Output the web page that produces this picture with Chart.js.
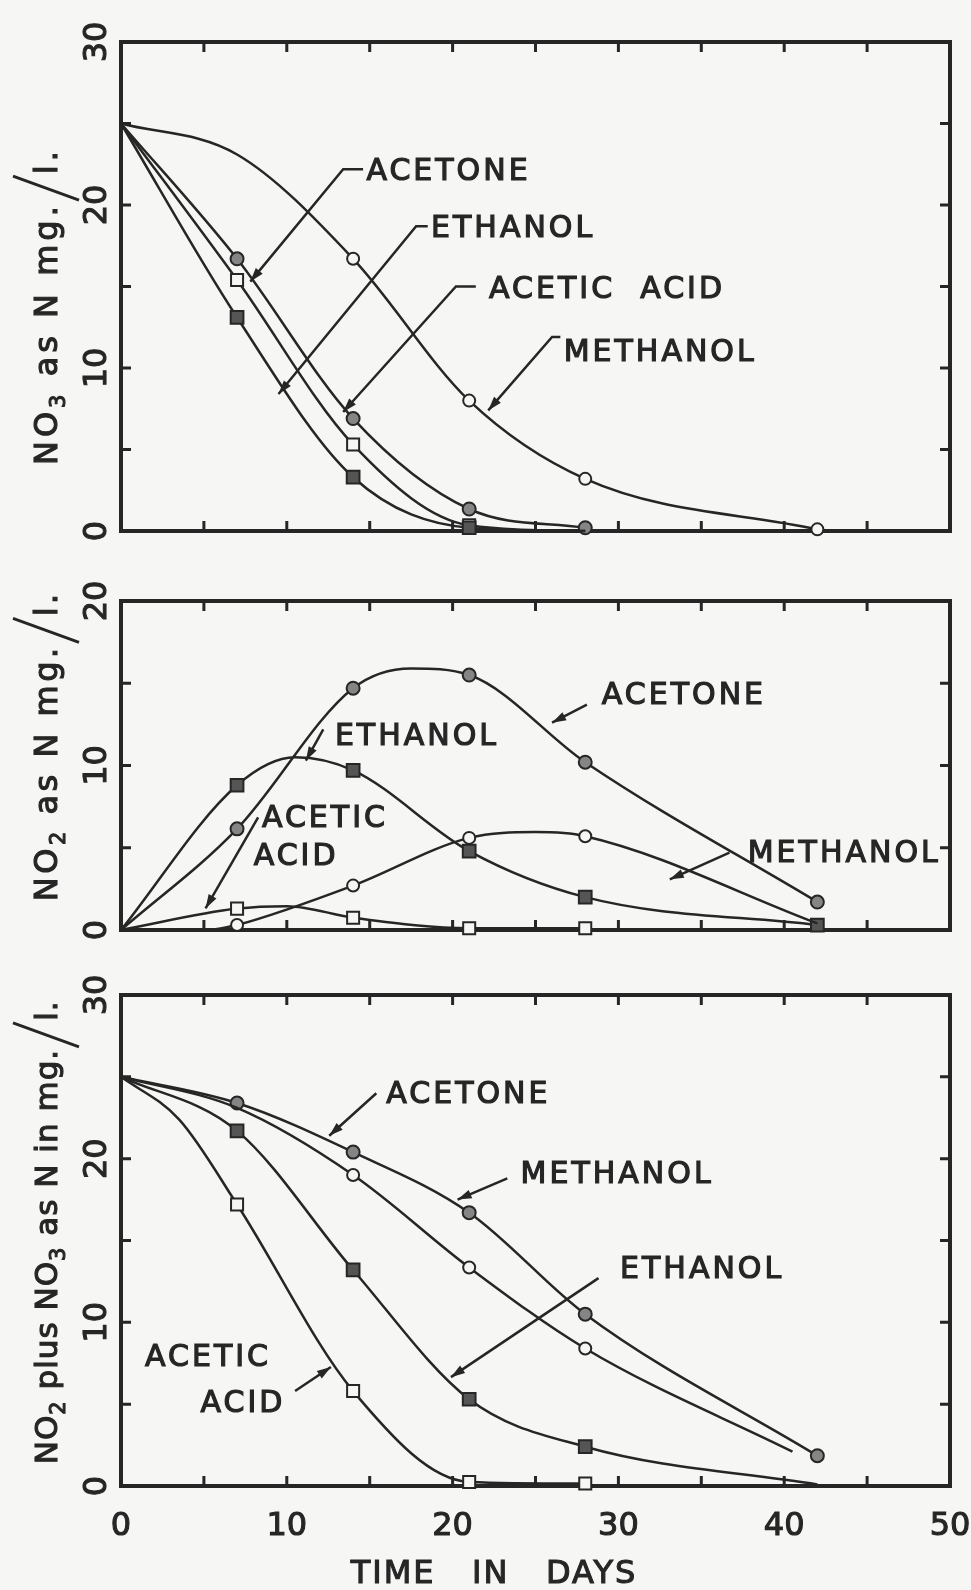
<!DOCTYPE html>
<html>
<head>
<meta charset="utf-8">
<script src="https://cdn.jsdelivr.net/npm/chart.js@4.4.1/dist/chart.umd.min.js"></script>
<style>
  html, body { margin: 0; padding: 0; background: #f6f6f4; }
  #wrap { position: relative; width: 971px; height: 1590px; }
  #wrap canvas { position: absolute; left: 0; top: 0; }
</style>
</head>
<body>
<div id="wrap">
  <canvas id="chart-no3" width="971" height="1590"></canvas>
  <canvas id="chart-no2" width="971" height="1590"></canvas>
  <canvas id="chart-sum" width="971" height="1590"></canvas>
</div>
<script>
// sampling days (symbols are drawn at these)
const sampleDays = [7, 14, 21, 28, 42];
const xTickLabels = [0, 10, 20, 30, 40, 50];
const xMinorTicks = [5, 10, 15, 20, 25, 30, 35, 40, 45];

// top panel - NO3 as N, mg/l
const no3Acetone    = [16.7, 6.9, 1.35, 0.2, null];
const no3Methanol   = [null, 16.7, 8.0, 3.2, 0.1];
const no3Ethanol    = [13.1, 3.3, 0.2, null, null];
const no3AceticAcid = [15.4, 5.3, 0.35, null, null];
// points (no symbol): [day, value]
const no3AcetoneCurve    = [[0, 25]];
const no3MethanolCurve   = [[0, 25], [7, 23.1]];
const no3EthanolCurve    = [[0, 25], [28, 0]];
const no3AceticAcidCurve = [[0, 25], [28, 0]];
const no3YTicks = [5, 10, 15, 20, 25];
const no3YLabels = [0, 10, 20, 30];

// middle panel - NO2 as N, mg/l
const no2Acetone    = [6.15, 14.7, 15.5, 10.2, 1.7];
const no2Methanol   = [0.3, 2.7, 5.6, 5.7, null];
const no2Ethanol    = [8.8, 9.7, 4.8, 2.0, 0.3];
const no2AceticAcid = [1.3, 0.75, 0.1, 0.1, null];
const no2AcetoneCurve    = [[0, 0], [17.5, 15.9]];
const no2MethanolCurve   = [[5.5, 0], [25, 5.95], [42, 0.4]];
const no2EthanolCurve    = [[0, 0], [10.5, 10.5]];
const no2AceticAcidCurve = [[0, 0], [10, 1.45]];
const no2YTicks = [5, 10, 15];
const no2YLabels = [0, 10, 20];

// bottom panel - NO2 plus NO3 as N, mg/l
const sumAcetone    = [23.4, 20.4, 16.7, 10.5, 1.85];
const sumMethanol   = [null, 19.0, 13.35, 8.4, null];
const sumEthanol    = [21.7, 13.2, 5.3, 2.4, null];
const sumAceticAcid = [17.2, 5.8, 0.25, 0.15, null];
const sumAcetoneCurve    = [[0, 25]];
const sumMethanolCurve   = [[0, 25], [7, 23.1], [40.5, 2.1]];
const sumEthanolCurve    = [[0, 25], [42, 0.1]];
const sumAceticAcidCurve = [[0, 25], [3.5, 22.4]];
const sumYTicks = [5, 10, 15, 20, 25];
const sumYLabels = [0, 10, 20, 30];

const INK = '#262626';
const FONT = '"DejaVu Sans", sans-serif';

const markStyle = {
  acetone:    { pointStyle: 'circle', fill: '#858585', r: 6.5 },
  methanol:   { pointStyle: 'circle', fill: '#f6f6f4', r: 6 },
  ethanol:    { pointStyle: 'rect',   fill: '#555555', r: 9 },
  aceticAcid: { pointStyle: 'rect',   fill: '#f6f6f4', r: 8.5 },
};

function buildPoints(values, curve) {
  const pts = [];
  sampleDays.forEach((d, i) => {
    if (values[i] !== null) pts.push({ x: d, y: values[i], mark: true });
  });
  curve.forEach(([d, v]) => pts.push({ x: d, y: v, mark: false }));
  return pts.sort((a, b) => a.x - b.x);
}

function series(kind, values, curve) {
  const st = markStyle[kind];
  return {
    data: buildPoints(values, curve),
    borderColor: INK,
    borderWidth: 2.5,
    cubicInterpolationMode: 'monotone',
    pointStyle: st.pointStyle,
    pointBackgroundColor: st.fill,
    pointBorderColor: INK,
    pointBorderWidth: 2,
    pointRadius: ctx => (ctx.raw && ctx.raw.mark ? st.r : 0),
    clip: false,
    fill: false,
  };
}

function drawLabelText(ctx, text, x, y) {
  ctx.fillText(text, x, y);
  ctx.strokeText(text, x, y);
}

const paperPlugin = {
  id: 'paper',
  beforeDatasetsDraw(chart, args, o) {
    const { ctx } = chart;
    const xs = chart.scales.x, ys = chart.scales.y;
    const X = v => xs.getPixelForValue(v), Y = v => ys.getPixelForValue(v);
    const l = X(0), r = X(50), t = Y(ys.max), b = Y(0);
    ctx.save();
    ctx.strokeStyle = INK;
    ctx.fillStyle = INK;
    ctx.lineWidth = 4;
    ctx.strokeRect(l, t, r - l, b - t);
    // inward minor ticks
    ctx.lineWidth = 3;
    ctx.beginPath();
    xMinorTicks.forEach(d => {
      ctx.moveTo(X(d), t); ctx.lineTo(X(d), t + 10);
      ctx.moveTo(X(d), b); ctx.lineTo(X(d), b - 10);
    });
    o.yTicks.forEach(v => {
      ctx.moveTo(l, Y(v)); ctx.lineTo(l + 10, Y(v));
      ctx.moveTo(r, Y(v)); ctx.lineTo(r - 10, Y(v));
    });
    ctx.stroke();

    // rotated y tick labels
    ctx.font = '32px ' + FONT;
    ctx.textAlign = 'center';
    ctx.textBaseline = 'alphabetic';
    ctx.lineWidth = 1.1;
    o.yLabels.forEach(v => {
      ctx.save();
      ctx.translate(94, Y(v));
      ctx.rotate(-Math.PI / 2);
      drawLabelText(ctx, String(v), 0, 11.5);
      ctx.restore();
    });

    // rotated y title, built from pieces
    ctx.save();
    ctx.translate(57, Y(o.titleAt));
    ctx.rotate(-Math.PI / 2);
    ctx.textAlign = 'left';
    ctx.letterSpacing = o.titleSpacing + 'px';
    const fontFor = p => (p[1] === 1 ? '21px ' : o.titleSize + 'px ') + FONT;
    let total = 0;
    o.title.forEach(p => {
      if (p[1] === 2) { total += 28; return; }
      ctx.font = fontFor(p);
      total += ctx.measureText(p[0]).width;
    });
    let px = -total / 2;
    o.title.forEach(p => {
      if (p[1] === 2) {
        ctx.lineWidth = 3;
        ctx.beginPath();
        ctx.moveTo(px + 2, 22);
        ctx.lineTo(px + 26, -44);
        ctx.stroke();
        ctx.lineWidth = 1.1;
        px += 28;
        return;
      }
      ctx.font = fontFor(p);
      drawLabelText(ctx, p[0], px, p[1] === 1 ? 8 : 0);
      px += ctx.measureText(p[0]).width;
    });
    ctx.restore();

    if (o.showX) {
      ctx.font = '32px ' + FONT;
      ctx.textAlign = 'center';
      xTickLabels.forEach(d => drawLabelText(ctx, String(d), X(d), b + 49));
      ctx.letterSpacing = '2px';
      drawLabelText(ctx, 'TIME   IN   DAYS', X(22.5), b + 97);
    }
    ctx.restore();
  },
  afterDatasetsDraw(chart, args, o) {
    const { ctx } = chart;
    const xs = chart.scales.x, ys = chart.scales.y;
    const X = v => xs.getPixelForValue(v), Y = v => ys.getPixelForValue(v);
    ctx.save();
    ctx.fillStyle = INK;
    ctx.strokeStyle = INK;
    ctx.font = '30px ' + FONT;
    ctx.letterSpacing = '3px';
    ctx.textAlign = 'left';
    ctx.textBaseline = 'alphabetic';
    o.notes.forEach(n => {
      ctx.lineWidth = 1.2;
      n.text.forEach(([s, x, y]) => drawLabelText(ctx, s, X(x), Y(y) + 11));
      const pts = n.path.map(([x, y]) => [X(x), Y(y)]);
      ctx.lineWidth = 2.5;
      ctx.beginPath();
      pts.forEach(([x, y], i) => (i ? ctx.lineTo(x, y) : ctx.moveTo(x, y)));
      ctx.stroke();
      const [tx, ty] = pts[pts.length - 1];
      const [qx, qy] = pts[pts.length - 2];
      const a = Math.atan2(ty - qy, tx - qx);
      const len = 14, w = 4.5;
      ctx.beginPath();
      ctx.moveTo(tx, ty);
      ctx.lineTo(tx - len * Math.cos(a) - w * Math.sin(a), ty - len * Math.sin(a) + w * Math.cos(a));
      ctx.lineTo(tx - len * Math.cos(a) + w * Math.sin(a), ty - len * Math.sin(a) - w * Math.cos(a));
      ctx.closePath();
      ctx.fill();
    });
    ctx.restore();
  },
};

function makeChart(id, yMax, pad, datasets, paper) {
  return new Chart(document.getElementById(id), {
    type: 'line',
    data: { datasets },
    options: {
      responsive: false,
      animation: false,
      devicePixelRatio: 1,
      events: [],
      layout: { padding: pad },
      scales: {
        x: { type: 'linear', min: 0, max: 50, display: false },
        y: { type: 'linear', min: 0, max: yMax, display: false },
      },
      plugins: { legend: { display: false }, tooltip: { enabled: false }, paper },
    },
    plugins: [paperPlugin],
  });
}

// NO3
makeChart('chart-no3', 30, { left: 121, right: 21, top: 42, bottom: 1059 }, [
  series('methanol', no3Methanol, no3MethanolCurve),
  series('ethanol', no3Ethanol, no3EthanolCurve),
  series('aceticAcid', no3AceticAcid, no3AceticAcidCurve),
  series('acetone', no3Acetone, no3AcetoneCurve),
], {
  yTicks: no3YTicks, yLabels: no3YLabels, titleAt: 13.8, titleSize: 32, titleSpacing: 4, showX: false,
  title: [['NO', 0], ['3', 1], [' as N mg.', 0], ['/', 2], ['l.', 0]],
  notes: [
    { text: [['ACETONE', 14.8, 22.2]], path: [[14.6, 22.2], [13.4, 22.2], [7.8, 15.3]] },
    { text: [['ETHANOL', 18.7, 18.7]], path: [[18.5, 18.7], [17.8, 18.7], [9.5, 8.4]] },
    { text: [['ACETIC  ACID', 22.2, 15.0]], path: [[21.4, 15.0], [20.2, 15.0], [13.4, 7.3]] },
    { text: [['METHANOL', 26.7, 11.1]], path: [[26.5, 11.9], [26.0, 11.9], [22.15, 7.4]] },
  ],
});

// NO2
makeChart('chart-no2', 20, { left: 121, right: 21, top: 601, bottom: 660 }, [
  series('aceticAcid', no2AceticAcid, no2AceticAcidCurve),
  series('methanol', no2Methanol, no2MethanolCurve),
  series('ethanol', no2Ethanol, no2EthanolCurve),
  series('acetone', no2Acetone, no2AcetoneCurve),
], {
  yTicks: no2YTicks, yLabels: no2YLabels, titleAt: 11.2, titleSize: 32, titleSpacing: 3.5, showX: false,
  title: [['NO', 0], ['2', 1], [' as N mg.', 0], ['/', 2], ['l.', 0]],
  notes: [
    { text: [['ACETONE', 29.0, 14.4]], path: [[28.1, 13.7], [26.0, 12.6]] },
    { text: [['ETHANOL', 12.9, 11.9]], path: [[12.2, 12.2], [11.15, 10.3]] },
    { text: [['ACETIC', 8.5, 6.9], ['ACID', 8.0, 4.6]], path: [[8.27, 6.85], [5.1, 1.31]] },
    { text: [['METHANOL', 37.8, 4.8]], path: [[36.7, 4.7], [33.1, 3.08]] },
  ],
});

// NO2 + NO3
makeChart('chart-sum', 30, { left: 121, right: 21, top: 995, bottom: 104 }, [
  series('aceticAcid', sumAceticAcid, sumAceticAcidCurve),
  series('ethanol', sumEthanol, sumEthanolCurve),
  series('methanol', sumMethanol, sumMethanolCurve),
  series('acetone', sumAcetone, sumAcetoneCurve),
], {
  yTicks: sumYTicks, yLabels: sumYLabels, titleAt: 15.5, titleSize: 31, titleSpacing: 1, showX: true,
  title: [['NO', 0], ['2', 1], [' plus NO', 0], ['3', 1], [' as N in mg.', 0], ['/', 2], ['l.', 0]],
  notes: [
    { text: [['ACETONE', 16.0, 24.1]], path: [[15.4, 24.0], [12.56, 21.4]] },
    { text: [['METHANOL', 24.1, 19.2]], path: [[23.3, 18.8], [20.3, 17.5]] },
    { text: [['ETHANOL', 30.1, 13.4]], path: [[28.8, 12.7], [19.9, 6.65]] },
    { text: [['ACETIC', 1.45, 8.0], ['ACID', 4.8, 5.17]], path: [[10.5, 5.8], [12.66, 7.27]] },
  ],
});
</script>
</body>
</html>
